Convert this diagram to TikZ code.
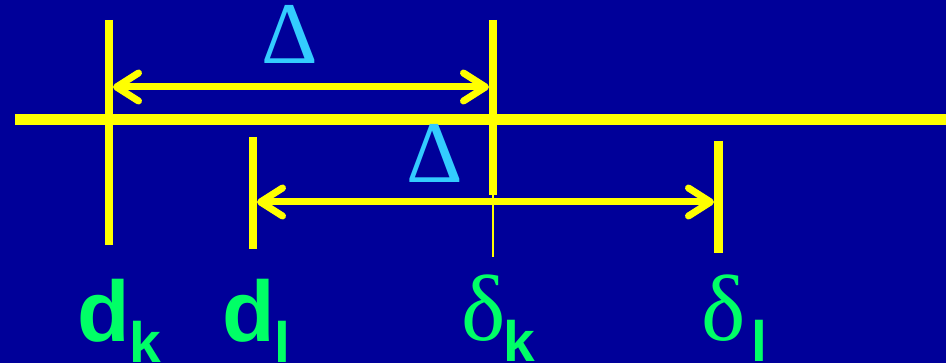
\documentclass[tikz,border=0pt]{standalone}
\usepackage{fontspec}
\setmainfont{Liberation Sans}
\newfontfamily\grserif{Liberation Serif}
\usetikzlibrary{arrows.meta}
\definecolor{bg}{HTML}{000099}
\definecolor{yel}{HTML}{FFFF00}
\definecolor{grn}{HTML}{00FF66}
\definecolor{cyn}{HTML}{33CCFF}
\tikzset{
  axisline/.style={draw=yel, line width=11pt},
  tick/.style={draw=yel, line width=8pt},
  thintick/.style={draw=yel, line width=2.5pt},
  dimarrow/.style={draw=yel, line width=7pt, {Straight Barb[length=22pt,width=28pt,round]}-{Straight Barb[length=22pt,width=28pt,round]}},
  deltalabel/.style={text=cyn, inner sep=0pt, anchor=base, font=\grserif\fontsize{88}{88}\selectfont},
  varlabel/.style={text=grn, inner sep=0pt, anchor=base west, font=\bfseries\fontsize{86}{86}\selectfont},
}
\newcommand{\lowsub}[1]{\raisebox{-21pt}{\fontsize{57}{57}\selectfont #1}}
\newcommand{\gdelta}{{\mdseries\grserif\fontsize{94}{94}\selectfont δ}}
\begin{document}
\begin{tikzpicture}[x=1pt,y=-1pt]
\fill[bg] (0,0) rectangle (946,363);
\useasboundingbox (0,0) rectangle (946,363);
% coordinates
\coordinate (axL) at (15,120);
\coordinate (axR) at (946,120);
\coordinate (dkT) at (109,20);
\coordinate (dkB) at (109,245);
\coordinate (skT) at (493,20);
\coordinate (skM) at (493,195);
\coordinate (skB) at (493,257);
\coordinate (dlT) at (253,137);
\coordinate (dlB) at (253,249);
\coordinate (slT) at (718,141);
\coordinate (slB) at (718,253);
\coordinate (a1L) at (113,87);
\coordinate (a1R) at (489,87);
\coordinate (a2L) at (257,202);
\coordinate (a2R) at (714,202);
% lines
\path[axisline] (axL) -- (axR);
\path[tick] (dkT) -- (dkB);
\path[tick] (skT) -- (skM);
\path[thintick] (skM) -- (skB);
\path[tick] (dlT) -- (dlB);
\path[tick, line width=9pt] (slT) -- (slB);
\path[dimarrow] (a1L) -- (a1R);
\path[dimarrow] (a2L) -- (a2R);
% labels
\node[deltalabel] (D1) at (290,64) {Δ};
\node[deltalabel] (D2) at (435,183) {Δ};
\node[varlabel] (dk) at (77,342) {d\lowsub{k}};
\node[varlabel] (dl) at (222,342) {d\lowsub{l}};
\node[varlabel] (sk) at (461,341) {\gdelta\hspace{-2pt}\lowsub{k}};
\node[varlabel] (sl) at (701,341) {\gdelta\hspace{6pt}\lowsub{l}};
\end{tikzpicture}
\end{document}
